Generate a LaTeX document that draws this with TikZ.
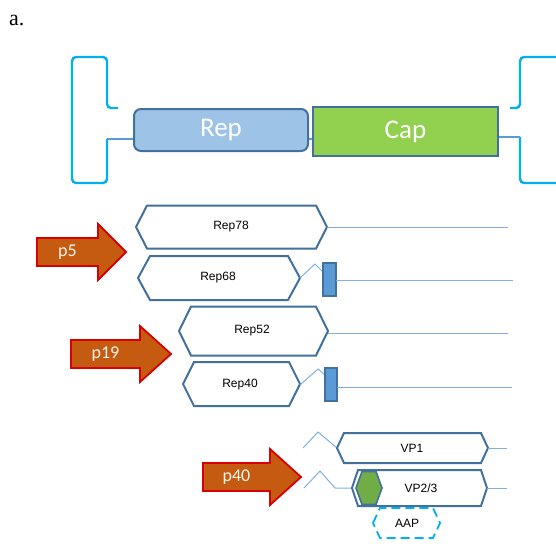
\documentclass[tikz,border=0pt]{standalone}
\usepackage{fontspec}
\setmainfont{Liberation Serif}
\newfontfamily\calfont{Carlito}
\newfontfamily\arialfont{Liberation Sans}
\definecolor{itr}{HTML}{00B0F0}
\definecolor{hexline}{HTML}{41719C}
\definecolor{thin}{HTML}{7FB0E0}
\definecolor{repfill}{HTML}{9DC3E6}
\definecolor{capfill}{HTML}{92D050}
\definecolor{arrfill}{HTML}{C55A11}
\definecolor{arrline}{HTML}{D80000}
\definecolor{exonfill}{HTML}{5B9BD5}
\definecolor{aapgreen}{HTML}{70AD47}
\newcommand{\hexbox}[6][]{%
  \draw[#1] (#2,#4) -- (#2+#6,#4-#5) -- (#3-#6,#4-#5) -- (#3,#4) -- (#3-#6,#4+#5) -- (#2+#6,#4+#5) -- cycle;}
\newcommand{\promarrow}[6]{% name, x0, xbody, xtip, ymid, label
  \draw[arrowshape] (#2,#5-14) -- (#3,#5-14) -- (#3,#5-28) -- (#4,#5) -- (#3,#5+28) -- (#3,#5+14) -- (#2,#5+14) -- cycle;
  \node[arrowtext] (#1) at ({(#2+#3)/2},#5) {#6};}
\tikzset{
  x=1pt,y=-1pt,
  itrline/.style={draw=itr,line width=2.4pt,rounded corners=4pt},
  hexshape/.style={draw=hexline,line width=2pt,fill=white,line join=miter},
  thinline/.style={draw=thin,line width=1pt},
  exon/.style={draw=hexline,line width=1.4pt,fill=exonfill},
  arrowshape/.style={draw=arrline,line width=1.8pt,fill=arrfill,line join=miter},
  arrowtext/.style={text=white!92!orange,font=\calfont\fontsize{18}{20}\selectfont,inner sep=0pt},
  hextext/.style={font=\arialfont\fontsize{12}{14}\selectfont,inner sep=0pt},
  genebox/.style={draw=hexline,line width=2pt,text=white,font=\calfont\fontsize{27}{29}\selectfont,inner sep=0pt},
}
\begin{document}
\begin{tikzpicture}
\useasboundingbox (0,0) rectangle (556,547);
\fill[white] (0,0) rectangle (556,547);
\node[font=\fontsize{22}{24}\selectfont,anchor=west,inner sep=0pt] (lbl) at (9,20) {a.};

% ITRs
\begin{scope}
\clip (0,0) rectangle (556,547);
\draw[itrline] (118,108) -- (107,108) -- (107,57) -- (72,57) -- (72,183) -- (107,183) -- (107,139);
\draw[itrline] (510,108) -- (520,108) -- (520,57) -- (558,57);
\draw[itrline] (520,137) -- (520,183) -- (558,183);
\end{scope}
\coordinate (litr) at (107,139);
\coordinate (ritr) at (520,137);

% Rep / Cap
\node[genebox,fill=repfill,rounded corners=7pt,minimum width=174pt,minimum height=42pt] (rep) at (221,130) {Rep};
\node[genebox,fill=capfill,minimum width=185pt,minimum height=49pt] (cap) at (405.5,131.5) {Cap};
\draw[draw=exonfill,line width=1.5pt] (litr) -- (rep.west |- litr);
\draw[draw=exonfill,line width=1.5pt] (rep.east |- 0,139) -- (cap.west |- 0,139);
\draw[draw=exonfill,line width=1.5pt] (cap.east |- ritr) -- (ritr);

% Rep78
\hexbox[hexshape]{136}{327}{227}{21.5}{11}
\node[hextext] (rep78) at (231,227) {Rep78};
\coordinate (r78a) at (327,227);
\coordinate (r78b) at (508,227);
\draw[thinline] (r78a) -- (r78b);

% Rep68
\hexbox[hexshape]{138}{300}{278}{22}{12}
\node[hextext] (rep68) at (218,278) {Rep68};
\coordinate (r68a) at (300,278);
\coordinate (r68b) at (315,264);
\draw[thinline] (r68a) -- (r68b) -- (323,272);
\draw[exon] (323,263) rectangle (336,296);
\coordinate (r68c) at (336,280);
\coordinate (r68d) at (513,280);
\draw[thinline] (r68c) -- (r68d);

% Rep52
\hexbox[hexshape]{179}{328}{331}{24.5}{12}
\node[hextext] (rep52) at (252,331) {Rep52};
\coordinate (r52a) at (328,333);
\coordinate (r52b) at (508,333);
\draw[thinline] (r52a) -- (r52b);

% Rep40
\hexbox[hexshape]{183}{300}{384}{22}{11}
\node[hextext] (rep40) at (240,385) {Rep40};
\coordinate (r40a) at (300,385);
\draw[thinline] (r40a) -- (318,369) -- (325,375);
\draw[exon] (325,368) rectangle (337,401);
\coordinate (r40c) at (337,387);
\coordinate (r40d) at (512,387);
\draw[thinline] (r40c) -- (r40d);

% VP1
\draw[thinline] (303,448) -- (318,432) -- (337,448);
\hexbox[hexshape]{337}{488}{448}{15}{7}
\node[hextext] (vp1) at (412,448) {VP1};
\coordinate (vp1a) at (488,448);
\coordinate (vp1b) at (507,448);
\draw[thinline] (vp1a) -- (vp1b);

% VP2/3
\draw[thinline] (304,488) -- (320,471) -- (335,488) -- (352,488);
\hexbox[hexshape]{352}{487}{488}{18}{6}
\hexbox[draw=hexline,line width=1.6pt,fill=aapgreen]{356}{382}{488}{16.5}{6}
\node[hextext] (vp23) at (421,488) {VP2/3};
\coordinate (vp2a) at (487,488);
\coordinate (vp2b) at (507,488);
\draw[thinline] (vp2a) -- (vp2b);

% AAP
\hexbox[draw=itr,line width=1.8pt,dash pattern=on 9pt off 5pt]{373}{440}{523}{15}{7}
\node[hextext] (aap) at (407,523) {AAP};

% promoters
\promarrow{p5}{37}{98}{126}{252}{p5}
\promarrow{p19}{71}{140}{171}{354}{p19}
\promarrow{p40}{203}{270}{301}{477}{p40}
\end{tikzpicture}
\end{document}
